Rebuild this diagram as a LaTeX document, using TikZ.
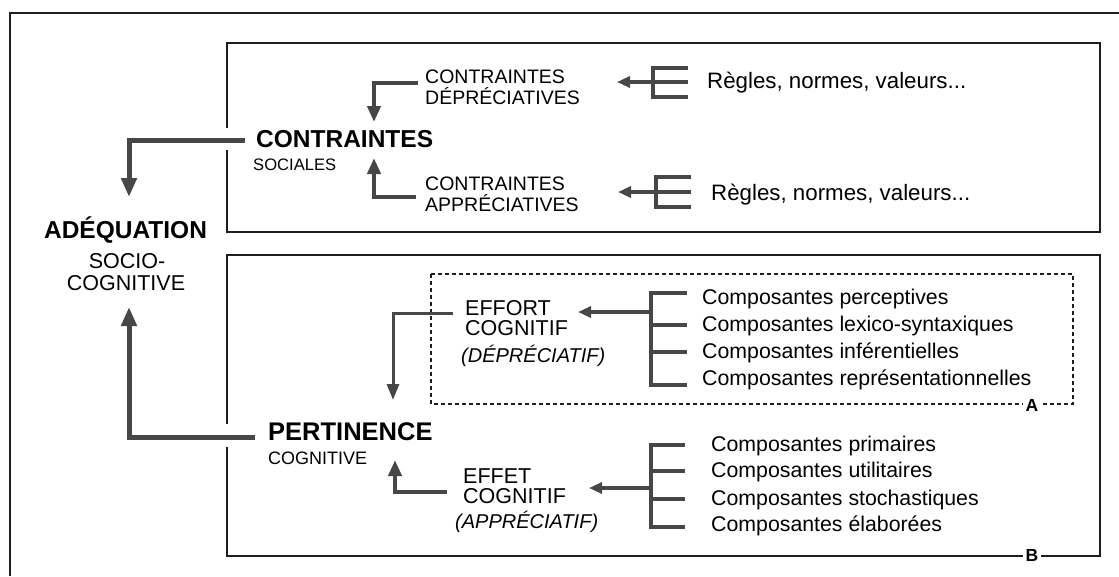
\documentclass[tikz,border=0pt]{standalone}
\usepackage{fontspec}
\setmainfont{Liberation Sans}
\usetikzlibrary{arrows.meta}
\definecolor{arrgray}{HTML}{474747}
\definecolor{linecol}{HTML}{1E1E1E}
\tikzset{
  lbl/.style={inner sep=0pt, anchor=base west},
  fbig/.style={font=\fontsize{24.5}{28}\selectfont\bfseries},
  fmid/.style={font=\fontsize{19.5}{22}\selectfont},
  fcomp/.style={font=\fontsize{21.3}{24}\selectfont},
  boxline/.style={draw=linecol, line width=1.6pt},
  thickarr/.style={draw=arrgray, line width=5pt, -{Triangle[length=19pt,width=15pt]}},
  medarr/.style={draw=arrgray, line width=4pt, -{Triangle[length=16pt,width=13pt]}},
  thinarr/.style={draw=arrgray, line width=3pt, -{Triangle[length=16pt,width=12pt]}},
  brackarr/.style={draw=arrgray, line width=3.5pt, -{Triangle[length=13pt,width=11pt]}},
  brack/.style={draw=arrgray, line width=4pt},
  letter/.style={fill=white, inner sep=2.5pt, font=\fontsize{17.5}{19}\selectfont\bfseries},
}
\begin{document}
\begin{tikzpicture}[x=1pt,y=-1pt]
\useasboundingbox (0,0) rectangle (1119,576);
\fill[white] (0,0) rectangle (1119,576);
% outer frame
\draw[boxline, line width=2pt] (10,576) -- (10,13) -- (1119,13);
% upper box with gap
\draw[boxline] (227,128) -- (227,43) -- (1100,43) -- (1100,232) -- (227,232) -- (227,150);
% lower box with gap
\draw[boxline] (227,424) -- (227,255) -- (1100,255) -- (1100,556) -- (227,556) -- (227,447);
\node[letter] (lbB) at (1032,555) {B};
% dashed box A
\draw[draw=linecol, line width=1.3pt, dash pattern=on 4pt off 3pt] (431,274) rectangle (1073,404);
\node[letter] (lbA) at (1032,405) {A};

% main labels
\node[lbl, fbig, anchor=base] (adeq) at (125.5,238) {ADÉQUATION};
\node[lbl, anchor=base, font=\fontsize{21.5}{24}\selectfont] (adeq1) at (127,268) {SOCIO-};
\node[lbl, anchor=base, font=\fontsize{21.5}{24}\selectfont] (adeq2) at (126,290) {COGNITIVE};

\node[lbl, fbig] (contr) at (256,147) {CONTRAINTES};
\node[lbl, font=\fontsize{16.6}{19}\selectfont] (soc) at (253,170) {SOCIALES};

\node[lbl, fmid] (cd1) at (425,83) {CONTRAINTES};
\node[lbl, fmid] (cd2) at (425,104) {DÉPRÉCIATIVES};
\node[lbl, fmid] (ca1) at (425,190) {CONTRAINTES};
\node[lbl, fmid] (ca2) at (425,211) {APPRÉCIATIVES};

\node[lbl, font=\fontsize{22.3}{25}\selectfont] (r1) at (707,88) {Règles, normes, valeurs...};
\node[lbl, font=\fontsize{22.3}{25}\selectfont] (r2) at (711,200) {Règles, normes, valeurs...};

\node[lbl, font=\fontsize{25.5}{28}\selectfont\bfseries] (pert) at (268,440) {PERTINENCE};
\node[lbl, font=\fontsize{18}{20}\selectfont] (pertc) at (268,464) {COGNITIVE};

\node[lbl, font=\fontsize{21.5}{24}\selectfont] (eff1) at (465,315) {EFFORT};
\node[lbl, font=\fontsize{21.5}{24}\selectfont] (eff2) at (465,335) {COGNITIF};
\node[lbl, font=\fontsize{20}{22}\selectfont\itshape] (eff3) at (461,362) {(DÉPRÉCIATIF)};

\node[lbl, font=\fontsize{21.5}{24}\selectfont] (efe1) at (463,483) {EFFET};
\node[lbl, font=\fontsize{21.5}{24}\selectfont] (efe2) at (463,503) {COGNITIF};
\node[lbl, font=\fontsize{20}{22}\selectfont\itshape] (efe3) at (455,528) {(APPRÉCIATIF)};

\node[lbl, fcomp] (ka) at (702,304) {Composantes perceptives};
\node[lbl, fcomp] (kb) at (702,331) {Composantes lexico-syntaxiques};
\node[lbl, fcomp] (kc) at (702,358) {Composantes inférentielles};
\node[lbl, fcomp] (kd) at (702,385) {Composantes représentationnelles};

\node[lbl, fcomp] (pa) at (711,451) {Composantes primaires};
\node[lbl, fcomp] (pb) at (711,477) {Composantes utilitaires};
\node[lbl, fcomp] (pc) at (711,505) {Composantes stochastiques};
\node[lbl, fcomp] (pd) at (711,531) {Composantes élaborées};

% coordinates for connectors
\coordinate (contrS) at (245,140);
\coordinate (adeqT) at (129,197);
\coordinate (pertS) at (255,437);
\coordinate (adeqB) at (129,307);
\coordinate (cdS) at (418,83);
\coordinate (contrT) at (374,122);
\coordinate (caS) at (416,197);
\coordinate (contrB) at (374,158);
\coordinate (effS) at (453,313);
\coordinate (pertT) at (393,400);
\coordinate (efeS) at (447,492);
\coordinate (pertB) at (395,460);

% main arrows
\draw[thickarr] (contrS) -| (adeqT);
\draw[thickarr] (pertS) -| (adeqB);
\draw[medarr] (cdS) -| (contrT);
\draw[medarr] (caS) -| (contrB);
\draw[thinarr] (effS) -| (pertT);
\draw[medarr] (efeS) -| (pertB);

% bracket 1
\coordinate (b1) at (653,82);
\coordinate (b1t) at (617,82);
\draw[brack] (688,68) -- (653,68) -- (653,97) -- (688,97);
\draw[brack] (b1) -- (688,82);
\draw[brackarr] (b1) -- (b1t);
% bracket 2
\coordinate (b2) at (656,192);
\coordinate (b2t) at (618,192);
\draw[brack] (691,177) -- (656,177) -- (656,207) -- (691,207);
\draw[brack] (b2) -- (691,192);
\draw[brackarr] (b2) -- (b2t);
% bracket 3 (effort)
\coordinate (b3) at (651,312);
\coordinate (b3t) at (578,312);
\draw[brack] (687,293) -- (651,293) -- (651,385) -- (687,385);
\draw[brack] (651,325) -- (687,325);
\draw[brack] (651,352) -- (687,352);
\draw[brackarr] (b3) -- (b3t);
% bracket 4 (effet)
\coordinate (b4) at (651,488);
\coordinate (b4t) at (589,488);
\draw[brack] (685,445) -- (651,445) -- (651,527) -- (685,527);
\draw[brack] (651,471) -- (685,471);
\draw[brack] (651,499) -- (685,499);
\draw[brackarr] (b4) -- (b4t);
\end{tikzpicture}
\end{document}
